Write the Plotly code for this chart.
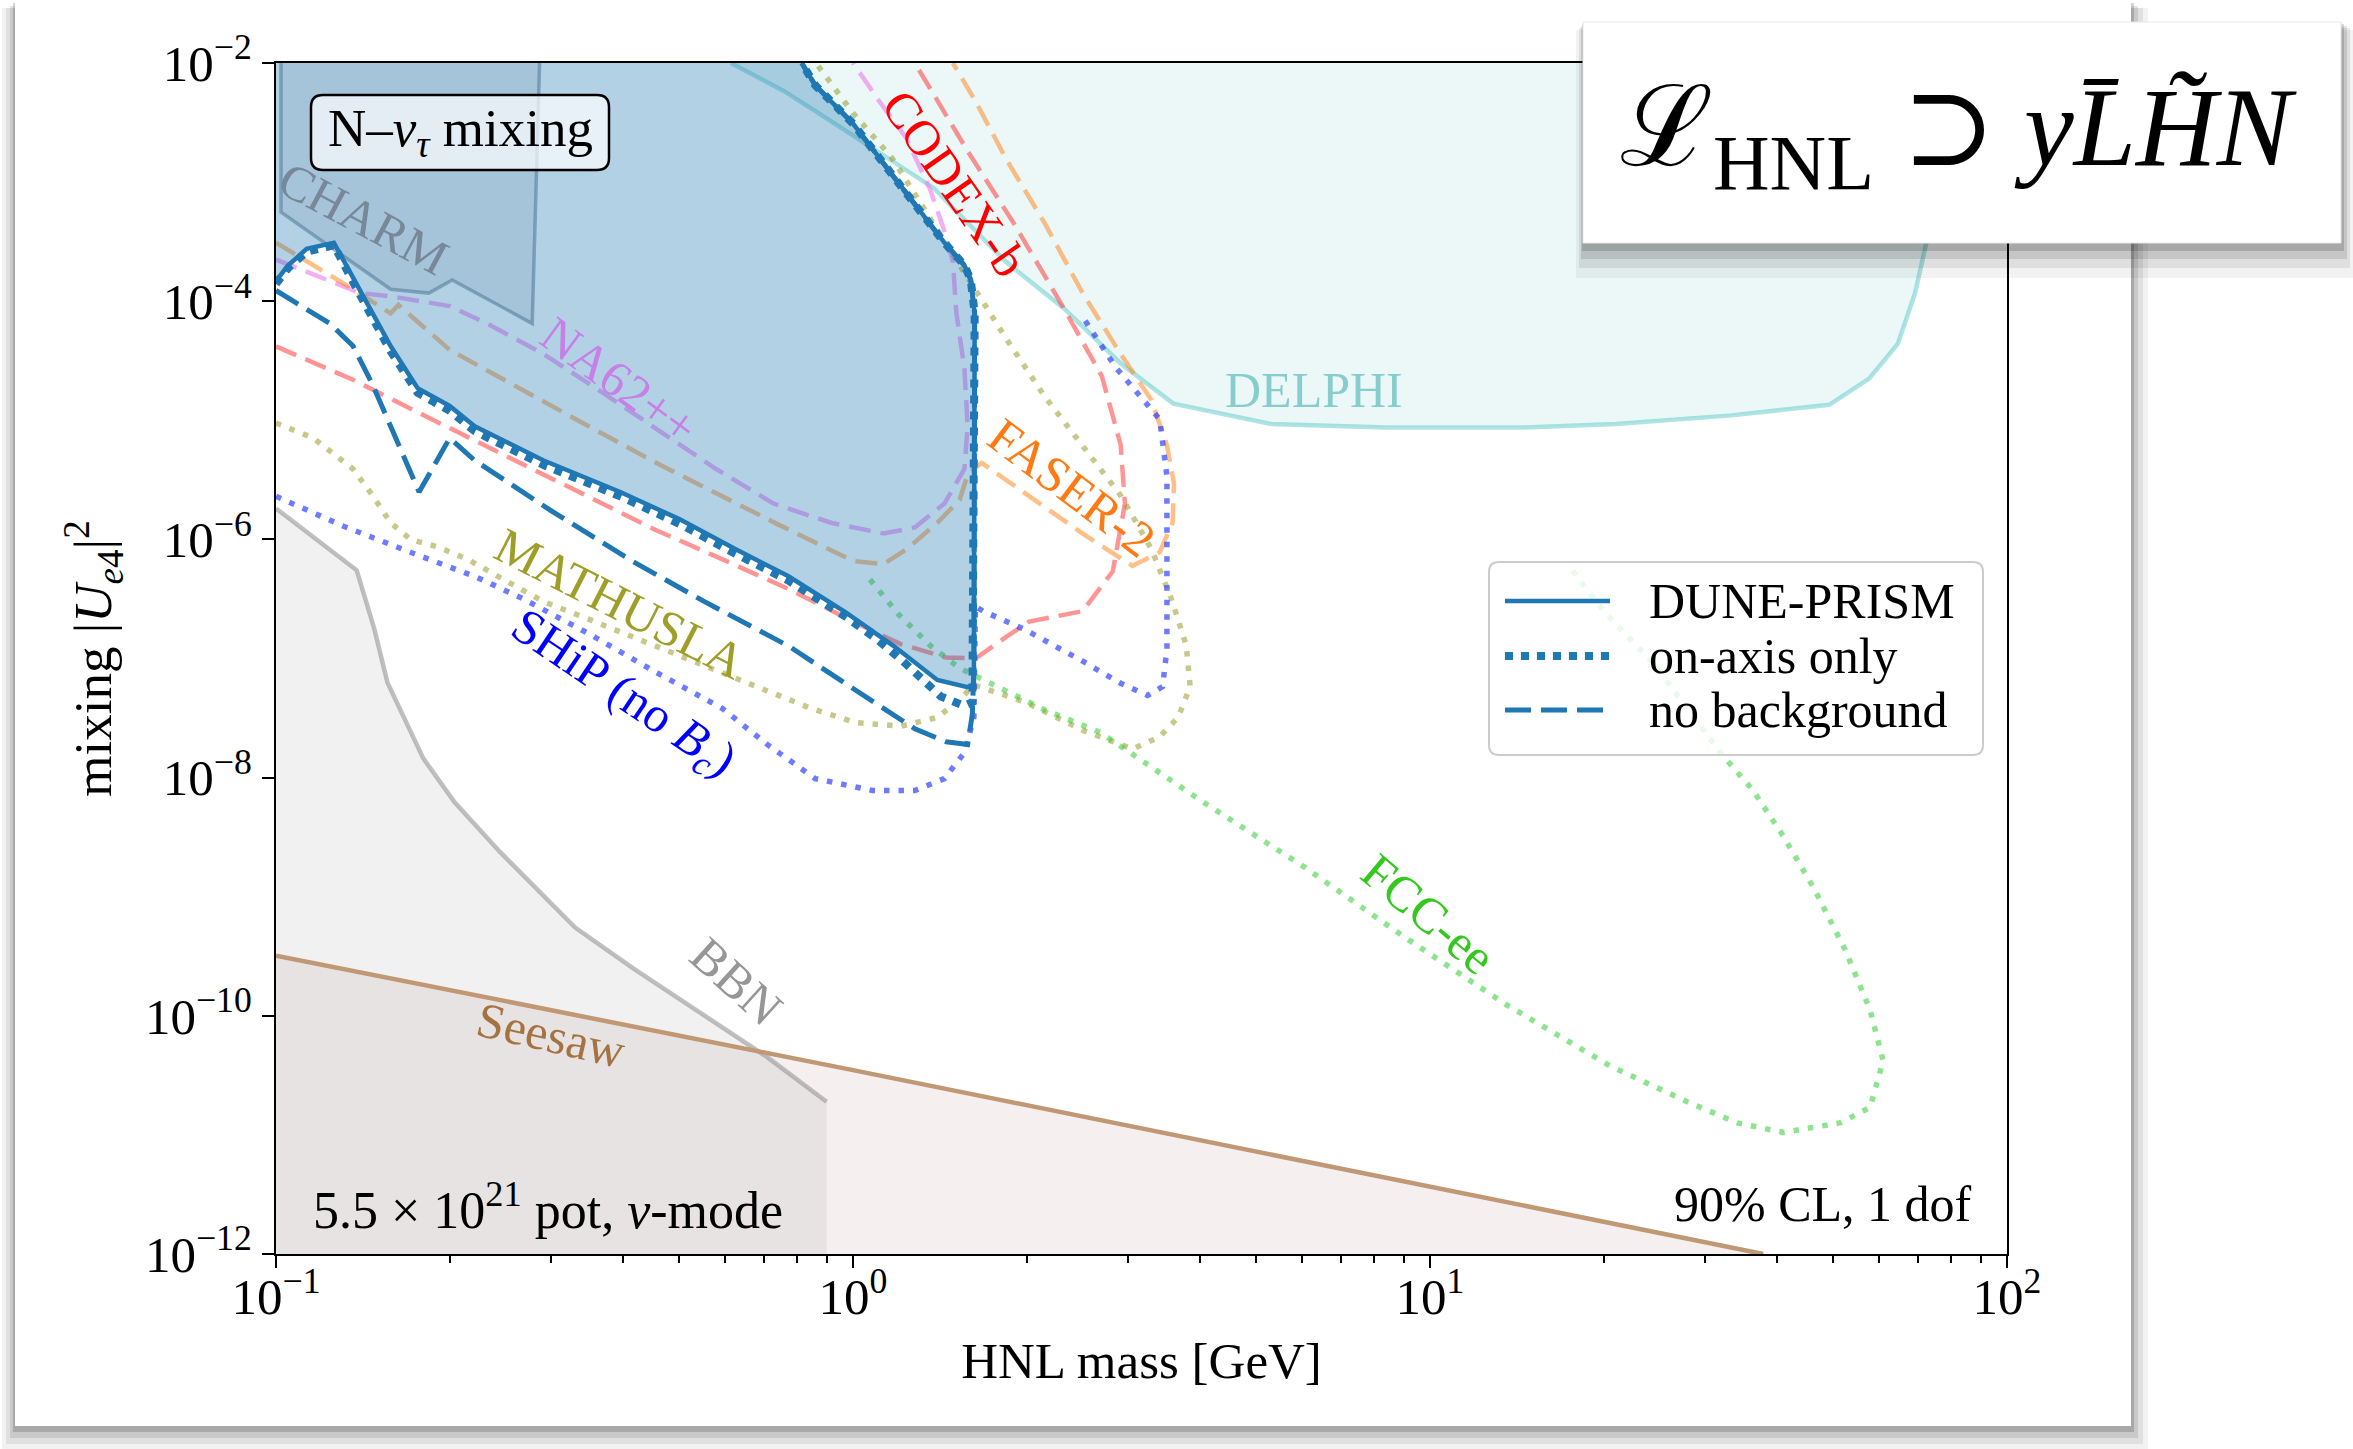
import numpy as np
import plotly.graph_objects as go

# ---------------------------------------------------------------------------
# HNL sensitivity, N - nu_tau mixing.  Masses in GeV, mixing = |U|^2
# ---------------------------------------------------------------------------

# DUNE-PRISM (full analysis): lower edge of the excluded region
dune_low_mass = [0.1, 0.105, 0.113, 0.126, 0.136, 0.147, 0.158, 0.176, 0.20, 0.221,
                 0.291, 0.395, 0.50, 0.625, 0.773, 0.97, 1.18, 1.40, 1.58, 1.62]
dune_low_mix = [1.48e-4, 2.0e-4, 2.75e-4, 3.09e-4, 1.58e-4, 8.1e-5, 4.2e-5, 1.86e-5, 1.32e-5, 8.9e-6,
                4.6e-6, 2.5e-6, 1.48e-6, 8.3e-7, 4.9e-7, 2.45e-7, 1.26e-7, 6.6e-8, 5.75e-8, 6.0e-8]

# upper-right edge shared by the three DUNE contours
dune_edge_mass = [1.625, 1.60, 1.56, 1.44, 1.28, 1.11, 1.0, 0.86, 0.815]
dune_edge_mix = [7.9e-5, 1.51e-4, 2.0e-4, 3.1e-4, 6.5e-4, 1.58e-3, 3.1e-3, 6.5e-3, 1.0e-2]

# on-axis only
onaxis_low_mass = [0.1, 0.105, 0.113, 0.126, 0.136, 0.147, 0.158, 0.176, 0.20, 0.221, 0.291,
                   0.395, 0.50, 0.625, 0.773, 0.97, 1.10, 1.22, 1.32, 1.42, 1.56, 1.61]
onaxis_low_mix = [1.4e-4, 1.9e-4, 2.6e-4, 2.95e-4, 1.45e-4, 7.4e-5, 3.8e-5, 1.7e-5, 1.2e-5, 8.1e-6, 4.2e-6,
                  2.3e-6, 1.35e-6, 7.6e-7, 4.5e-7, 2.25e-7, 1.45e-7, 9.5e-8, 6.5e-8, 4.8e-8, 4.0e-8, 4.3e-8]

# no background
nobkg_low_mass = [0.1, 0.124, 0.136, 0.147, 0.158, 0.177, 0.20, 0.221, 0.302, 0.416,
                  0.553, 0.776, 1.0, 1.28, 1.45, 1.58, 1.61, 1.62]
nobkg_low_mix = [1.23e-4, 6.5e-5, 4.2e-5, 2.0e-5, 8.9e-6, 2.5e-6, 7.1e-6, 4.6e-6, 1.7e-6, 6.5e-7,
                 3.0e-7, 1.26e-7, 5.6e-8, 2.57e-8, 2.0e-8, 1.9e-8, 3.4e-8, 8.3e-8]

# existing bounds and other experiments
charm_mass = [0.102, 0.102, 0.158, 0.184, 0.202, 0.278, 0.287]
charm_mix = [1.5e-2, 5.6e-4, 1.26e-4, 1.17e-4, 1.51e-4, 6.5e-5, 1.5e-2]

delphi_mass = [0.614, 0.76, 0.95, 1.38, 1.84, 2.32, 2.91, 3.59, 5.3, 8.4, 14.6, 21.0,
               33.3, 49.2, 57.7, 64.7, 69.3, 72.6, 75.9, 77.6, 77.6, 0.614]
delphi_mix = [1.0e-2, 5.8e-3, 2.9e-3, 8.9e-4, 2.14e-4, 8.7e-5, 3.0e-5, 1.38e-5, 9.3e-6, 8.7e-6, 8.7e-6, 9.3e-6,
              1.1e-5, 1.35e-5, 2.24e-5, 4.4e-5, 1.17e-4, 3.2e-4, 1.26e-3, 1.0e-2, 2.0e-2, 2.0e-2]

na62_mass = [0.1, 0.14, 0.158, 0.2, 0.232, 0.291, 0.366, 0.46, 0.579, 0.728, 0.916, 1.13, 1.28,
             1.44, 1.56, 1.58, 1.56, 1.51, 1.49, 1.44, 1.36, 1.24, 1.11, 1.0]
na62_mix = [2.24e-4, 1.17e-4, 1.1e-4, 9.1e-5, 6.5e-5, 3.6e-5, 1.74e-5, 8.3e-6, 3.9e-6, 2.0e-6, 1.38e-6, 1.12e-6, 1.26e-6,
            2.0e-6, 3.9e-6, 8.9e-6, 2.7e-5, 8.1e-5, 2.14e-4, 3.9e-4, 8.7e-4, 2.3e-3, 4.8e-3, 1.0e-2]

faser_mass = [0.1, 0.136, 0.158, 0.163, 0.2, 0.25, 0.34, 0.46, 0.625, 0.738, 1.0, 1.13, 1.24, 1.40,
              1.53, 1.58, 1.67, 2.15, 2.5, 3.05, 3.4, 3.58, 3.6, 3.5, 3.29, 2.91, 2.5, 2.15, 1.84, 1.63, 1.49]
faser_mix = [3.1e-4, 1.26e-4, 7.9e-5, 9.3e-5, 3.9e-5, 2.14e-5, 9.5e-6, 4.3e-6, 2.0e-6, 1.35e-6, 6.6e-7, 6.2e-7, 8.3e-7, 1.38e-6,
             2.14e-6, 3.5e-6, 4.4e-6, 1.86e-6, 1.12e-6, 6.0e-7, 7.8e-7, 1.38e-6, 2.95e-6, 6.2e-6, 1.48e-5, 3.6e-5, 1.17e-4, 4.5e-4, 1.58e-3, 4.8e-3, 1.0e-2]

codex_mass = [0.1, 0.136, 0.184, 0.251, 0.348, 0.455, 0.594, 0.776, 1.01, 1.21, 1.45, 1.63, 1.84, 2.02,
              2.5, 2.82, 2.96, 2.91, 2.7, 2.32, 1.9, 1.58, 1.28]
codex_mix = [4.17e-5, 2.19e-5, 1.05e-5, 5.0e-6, 2.29e-6, 1.2e-6, 6.8e-7, 3.8e-7, 2.0e-7, 1.32e-7, 1.02e-7, 1.0e-7, 1.51e-7, 2.04e-7,
             2.5e-7, 5.4e-7, 2.0e-6, 6.2e-6, 2.34e-5, 8.7e-5, 4.5e-4, 1.82e-3, 1.0e-2]

mathusla_mass = [0.1, 0.116, 0.136, 0.147, 0.158, 0.171, 0.19, 0.215, 0.25, 0.291, 0.348, 0.416, 0.497, 0.594,
                 0.71, 0.847, 1.01, 1.21, 1.40, 1.53, 1.62, 1.99, 2.5, 3.05, 3.4, 3.66, 3.84, 3.78, 3.56, 3.29,
                 2.91, 2.5, 2.15, 1.84, 1.58, 1.36, 1.17, 1.0, 0.873, 0.85]
mathusla_mix = [9.5e-6, 7.1e-6, 3.9e-6, 2.34e-6, 1.38e-6, 1.0e-6, 8.7e-7, 6.8e-7, 4.5e-7, 3.0e-7, 2.14e-7, 1.51e-7, 1.07e-7, 7.6e-8,
                5.4e-8, 3.8e-8, 2.9e-8, 2.7e-8, 3.2e-8, 4.5e-8, 6.0e-8, 4.3e-8, 2.5e-8, 1.74e-8, 2.2e-8, 3.2e-8, 5.8e-8, 1.29e-7, 3.2e-7, 8.3e-7,
                2.34e-6, 6.2e-6, 1.58e-5, 4.9e-5, 1.58e-4, 5.1e-4, 1.58e-3, 3.8e-3, 9.3e-3, 1.1e-2]

ship_mass = [0.1, 0.131, 0.171, 0.223, 0.267, 0.348, 0.457, 0.594, 0.71, 0.86, 1.08, 1.28, 1.44, 1.56, 1.62,
             1.63, 1.68, 1.99, 2.5, 2.91, 3.24, 3.44, 3.5, 3.5, 3.5, 3.4, 3.19, 2.85, 2.5]
ship_mix = [2.3e-6, 1.29e-6, 7.8e-7, 4.8e-7, 3.2e-7, 1.62e-7, 7.6e-8, 3.8e-8, 1.9e-8, 9.8e-9, 7.8e-9, 7.8e-9, 9.8e-9, 1.62e-8, 3.2e-8,
            2.75e-7, 2.5e-7, 1.74e-7, 9.5e-8, 6.2e-8, 4.9e-8, 5.8e-8, 1.2e-7, 7.6e-7, 3.4e-6, 1.02e-5, 1.48e-5, 2.8e-5, 7.4e-5]

fcc_mass = [1.07, 1.2, 1.36, 1.53, 1.73, 2.15, 2.68, 4.03, 6.05, 9.08, 13.6, 20.5, 27.9, 34.1, 41.0, 51.3,
            57.9, 61.0, 57.9, 52.4, 46.3, 41.0, 36.3, 32.1, 28.4, 24.5, 20.0, 17.5]
fcc_mix = [4.6e-7, 2.34e-7, 1.29e-7, 8.3e-8, 6.2e-8, 3.7e-8, 2.4e-8, 6.3e-9, 1.78e-9, 4.5e-10, 1.23e-10, 3.8e-11, 1.9e-11, 1.26e-11, 1.05e-11, 1.26e-11,
           1.7e-11, 4.2e-11, 1.12e-10, 3.6e-10, 1.17e-9, 3.2e-9, 7.8e-9, 1.55e-8, 3.4e-8, 8.9e-8, 2.5e-7, 5.8e-7]

bbn_mass = [0.1, 0.138, 0.148, 0.156, 0.18, 0.204, 0.244, 0.33, 0.416, 0.543, 0.71, 0.90]
bbn_mix = [1.82e-6, 5.5e-7, 1.78e-7, 6.3e-8, 1.45e-8, 6.2e-9, 2.4e-9, 5.5e-10, 2.5e-10, 1.07e-10, 4.5e-11, 1.9e-11]

seesaw_mass = [0.1, 1.0, 37.8]
seesaw_mix = [3.2e-10, 3.5e-11, 1.0e-12]

# curve labels: text, mass, mixing, rotation (deg), colour
curve_labels = [
    ("CHARM", 0.1416, 5.0e-4, 28, "rgb(120,136,152)"),
    ("NA62++", 0.394, 2.14e-5, 36, "rgb(198,128,230)"),
    ("CODEX-b", 1.50, 9.8e-4, 55, "rgb(255,0,0)"),
    ("FASER-2", 2.40, 2.7e-6, 37, "rgb(255,122,18)"),
    ("DELPHI", 6.3, 1.78e-5, 0, "rgb(135,205,205)"),
    ("MATHUSLA", 0.394, 2.9e-7, 27, "rgb(158,158,40)"),
    ("SHiP (no <i>B</i><sub><i>c</i></sub>)", 0.398, 4.9e-8, 34, "rgb(0,0,255)"),
    ("FCC-ee", 9.95, 7.2e-10, 40, "rgb(50,200,30)"),
    ("BBN", 0.627, 1.95e-10, 42, "rgb(150,150,150)"),
    ("Seesaw", 0.30, 6.9e-11, 13, "rgb(165,115,65)"),
]

x_tick_vals = [0.1, 1, 10, 100]
x_tick_text = ["10<sup>\u22121</sup>", "10<sup>0</sup>", "10<sup>1</sup>", "10<sup>2</sup>"]
x_minor_vals = [0.2, 0.3, 0.4, 0.5, 0.6, 0.7, 0.8, 0.9, 2, 3, 4, 5, 6, 7, 8, 9, 20, 30, 40, 50, 60, 70, 80, 90]
y_tick_vals = [1e-12, 1e-10, 1e-8, 1e-6, 1e-4, 1e-2]
y_tick_text = ["10<sup>\u221212</sup>", "10<sup>\u221210</sup>", "10<sup>\u22128</sup>",
               "10<sup>\u22126</sup>", "10<sup>\u22124</sup>", "10<sup>\u22122</sup>"]

# ---------------------------------------------------------------------------
FONT = "Liberation Serif, DejaVu Serif, serif"
W, H = 2353, 1449
L, R, T, B = 276, 2007, 63, 1254          # plot-area edges in px
DUNE = "#1f77b4"
DOT_DUNE = "8px,8px"
DASH_DUNE = "26px,10px"


def px(x):
    return (x - L) / (R - L)


def py(y):
    return (B - y) / (B - T)


def rrect(x0, y0, x1, y1, r):
    """rounded rectangle path in paper units from pixel corners"""
    rx, ry = r / (R - L), r / (B - T)
    X0, X1, Yb, Yt = px(x0), px(x1), py(y1), py(y0)
    return (f"M{X0+rx},{Yb} L{X1-rx},{Yb} Q{X1},{Yb} {X1},{Yb+ry} L{X1},{Yt-ry} "
            f"Q{X1},{Yt} {X1-rx},{Yt} L{X0+rx},{Yt} Q{X0},{Yt} {X0},{Yt-ry} "
            f"L{X0},{Yb+ry} Q{X0},{Yb} {X0+rx},{Yb} Z")


def line_trace(mass, mix, color, width, dash="solid"):
    return go.Scatter(x=mass, y=mix, mode="lines", hoverinfo="skip", showlegend=False,
                      line=dict(color=color, width=width, dash=dash))


def fill_trace(mass, mix, fillcolor, linecolor="rgba(0,0,0,0)", width=0):
    return go.Scatter(x=mass, y=mix, mode="lines", fill="toself", fillcolor=fillcolor,
                      hoverinfo="skip", showlegend=False,
                      line=dict(color=linecolor, width=width))


def paper_text(x, y, text, size, xanchor="center", color="black"):
    return dict(x=px(x), y=py(y), xref="paper", yref="paper", xanchor=xanchor,
                yanchor="middle", showarrow=False, text=text,
                font=dict(family=FONT, size=size, color=color))


fig = go.Figure()

# Seesaw band (below the line)
fig.add_trace(fill_trace(seesaw_mass + [seesaw_mass[-1], seesaw_mass[0]],
                         seesaw_mix + [1e-13, 1e-13], "rgba(175,125,125,0.12)"))
# BBN excluded region
fig.add_trace(fill_trace([0.09] + bbn_mass + [bbn_mass[-1], 0.09],
                         [bbn_mix[0]] + bbn_mix + [1e-13, 1e-13], "rgba(140,150,140,0.13)"))
fig.add_trace(line_trace(bbn_mass, bbn_mix, "rgba(150,150,150,0.6)", 4.5))
fig.add_trace(line_trace(seesaw_mass, seesaw_mix, "rgb(192,152,115)", 4.5))

# DELPHI and CHARM bounds
fig.add_trace(fill_trace(delphi_mass, delphi_mix, "rgba(64,190,190,0.1)"))
fig.add_trace(line_trace(delphi_mass[:-2], delphi_mix[:-2], "rgba(64,190,190,0.42)", 4.5))
fig.add_trace(fill_trace(charm_mass, charm_mix, "rgba(80,95,110,0.12)",
                         "rgba(90,105,125,0.5)", 3.5))

# future experiments
DASH = "22px,10px"
DOT = "5.5px,9px"
fig.add_trace(line_trace(na62_mass, na62_mix, "rgba(238,130,238,0.65)", 4.5, DASH))
fig.add_trace(line_trace(faser_mass, faser_mix, "rgba(255,127,14,0.5)", 4.5, DASH))
fig.add_trace(line_trace(codex_mass, codex_mix, "rgba(255,60,60,0.55)", 4.5, DASH))
fig.add_trace(line_trace(mathusla_mass, mathusla_mix, "rgba(150,150,30,0.52)", 5.5, DOT))
fig.add_trace(line_trace(ship_mass, ship_mix, "rgba(40,60,255,0.68)", 5.5, DOT))
fig.add_trace(line_trace(fcc_mass, fcc_mix, "rgba(50,205,50,0.55)", 5.5, DOT))

# DUNE-PRISM excluded region
fig.add_trace(fill_trace([0.09] + dune_low_mass + dune_edge_mass + [0.80, 0.09],
                         [dune_low_mix[0]] + dune_low_mix + dune_edge_mix + [2e-2, 2e-2],
                         "rgba(31,119,180,0.34)"))
fig.add_trace(line_trace(onaxis_low_mass + dune_edge_mass, onaxis_low_mix + dune_edge_mix,
                         DUNE, 8, DOT_DUNE))
fig.add_trace(line_trace(nobkg_low_mass + dune_edge_mass, nobkg_low_mix + dune_edge_mix,
                         DUNE, 5, DASH_DUNE))
fig.add_trace(line_trace(dune_low_mass + dune_edge_mass, dune_low_mix + dune_edge_mix,
                         DUNE, 4.5))

# ---------------------------------------------------------------------------
annotations = []
for text, m, u, ang, col in curve_labels:
    annotations.append(dict(x=np.log10(m), y=np.log10(u), xref="x", yref="y", text=text,
                            textangle=ang, showarrow=False, xanchor="center", yanchor="middle",
                            font=dict(family=FONT, size=50, color=col)))

annotations += [
    paper_text(460, 132, "N\u2013<i>\u03bd</i><sub><i>\u03c4</i></sub> mixing", 53),
    paper_text(311, 1206, "5.5 \u00d7 10<sup>21</sup> pot, <i>\u03bd</i>-mode", 52, "left"),
    paper_text(1974, 1204, "90% CL, 1 dof", 50, "right"),
    paper_text(1958, 136, "\u2112<sub>HNL</sub> \u2283 <i>yL\u0304H\u0303N</i>", 112),
]

legend_rows = [("DUNE-PRISM", "solid", 4.5, 601),
               ("on-axis only", DOT_DUNE, 8, 656),
               ("no background", DASH_DUNE, 5, 710)]
for text, dash, w, yrow in legend_rows:
    annotations.append(paper_text(1647, yrow, text, 50, "left"))

shapes = []
# card with drop shadow
for x0, y0, x1, y1, a in [(2, 8, 2148, 1449, 0.05), (6, 8, 2143, 1444, 0.07),
                          (10, 6, 2138, 1438, 0.10), (13, 3, 2134, 1432, 0.16)]:
    shapes.append(dict(type="rect", xref="paper", yref="paper", layer="below",
                       x0=px(x0), x1=px(x1), y0=py(y1), y1=py(y0),
                       fillcolor=f"rgba(0,0,0,{a})", line=dict(width=0)))
shapes.append(dict(type="rect", xref="paper", yref="paper", layer="below",
                   x0=px(15), x1=px(2131), y0=py(1426), y1=py(0),
                   fillcolor="white", line=dict(width=0)))

# mixing label box
shapes.append(dict(type="path", xref="paper", yref="paper", layer="above",
                   path=rrect(311, 95, 609, 170, 12),
                   fillcolor="rgba(255,255,255,0.7)", line=dict(color="black", width=2.5)))

# legend
shapes.append(dict(type="path", xref="paper", yref="paper", layer="above",
                   path=rrect(1489, 562, 1983, 755, 10),
                   fillcolor="rgba(255,255,255,0.8)", line=dict(color="rgb(204,204,204)", width=2)))
for text, dash, w, yrow in legend_rows:
    shapes.append(dict(type="line", xref="paper", yref="paper", layer="above",
                       x0=px(1505), x1=px(1610), y0=py(yrow), y1=py(yrow),
                       line=dict(color=DUNE, width=w, dash=dash)))

# Lagrangian card with soft shadow
for x0, y0, x1, y1, a in [(1576, 30, 2353, 278, 0.05), (1579, 28, 2350, 268, 0.08),
                          (1581, 26, 2347, 259, 0.11), (1582, 24, 2344, 251, 0.15)]:
    shapes.append(dict(type="rect", xref="paper", yref="paper", layer="above",
                       x0=px(x0), x1=px(x1), y0=py(y1), y1=py(y0),
                       fillcolor=f"rgba(0,0,0,{a})", line=dict(width=0)))
shapes.append(dict(type="rect", xref="paper", yref="paper", layer="above",
                   x0=px(1583), x1=px(2341), y0=py(243), y1=py(22),
                   fillcolor="white", line=dict(color="rgb(232,232,232)", width=1)))

fig.update_layout(
    width=W, height=H, autosize=False,
    margin=dict(l=L, r=W - R, t=T, b=H - B, pad=0),
    paper_bgcolor="white", plot_bgcolor="rgba(0,0,0,0)",
    showlegend=False,
    font=dict(family=FONT, size=48, color="black"),
    annotations=annotations, shapes=shapes,
)
fig.update_xaxes(
    type="log", range=[-1, 2], showgrid=False, zeroline=False,
    showline=True, linecolor="black", linewidth=2, mirror=True,
    ticks="outside", ticklen=12, tickwidth=2, tickcolor="black",
    tickvals=x_tick_vals, ticktext=x_tick_text, tickfont=dict(family=FONT, size=51),
    ticklabelstandoff=-15,
    minor=dict(ticks="outside", ticklen=7, tickwidth=1.5, tickcolor="black",
               tickvals=x_minor_vals, showgrid=False),
    title=dict(text="HNL mass [GeV]", standoff=18, font=dict(family=FONT, size=51)),
)
fig.update_yaxes(
    type="log", range=[-12, -2], showgrid=False, zeroline=False,
    showline=True, linecolor="black", linewidth=2, mirror=True,
    ticks="outside", ticklen=12, tickwidth=2, tickcolor="black",
    tickvals=y_tick_vals, ticktext=y_tick_text, tickfont=dict(family=FONT, size=51),
    title=dict(text="mixing |<i>U</i><sub><i>e</i>4</sub>|<sup>2</sup>", standoff=16,
               font=dict(family=FONT, size=53)),
)

fig.write_html("out.html")
